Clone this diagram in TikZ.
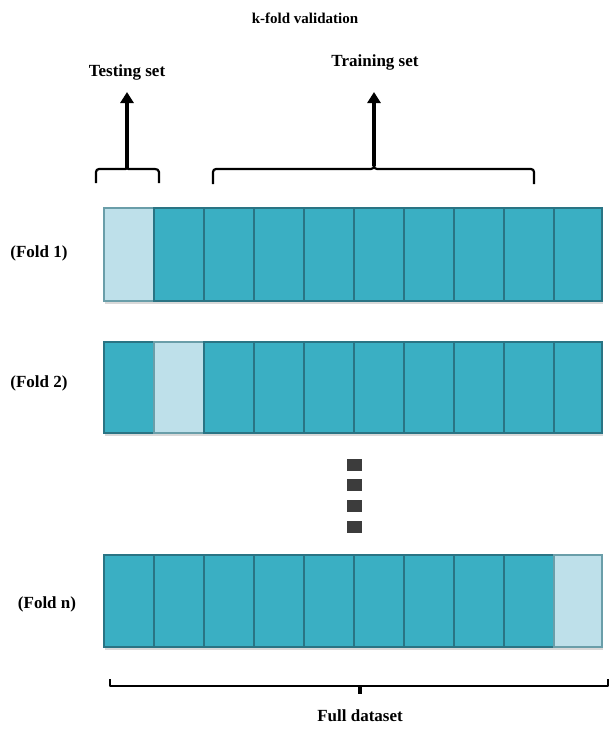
\documentclass[tikz,border=0pt]{standalone}
\usepackage{fontspec}
\setmainfont{Liberation Serif}
\usetikzlibrary{arrows.meta}
\definecolor{cellfill}{HTML}{3AAFC3}
\definecolor{testfill}{HTML}{BEE0EA}
\definecolor{celledge}{HTML}{2A7484}
\definecolor{dotgrey}{HTML}{3C3C3C}
\tikzset{
  cell/.style={draw=celledge, line width=2pt, fill=cellfill},
  testcell/.style={draw=celledge!70, line width=2pt, fill=testfill},
  lbl/.style={font=\bfseries\fontsize{17}{19}\selectfont, inner sep=0pt},
  titlelbl/.style={font=\bfseries\fontsize{15}{17}\selectfont, inner sep=0pt},
  brace/.style={draw=black, line width=2.2pt, line join=round},
  uparrow/.style={draw=black, line width=3.6pt, -{Triangle[length=11pt,width=13pt]}},
  dot/.style={fill=dotgrey, draw=none}
}
\begin{document}
\begin{tikzpicture}[x=1pt,y=-1pt]
\useasboundingbox (0,0) rectangle (610,734);
\fill[white] (0,0) rectangle (610,734);

% titles and labels
\node[titlelbl] (title) at (305,18) {k-fold validation};
\node[lbl] (testlbl) at (127,72) {Testing set};
\node[lbl] (trainlbl) at (375,62) {Training set};
\node[lbl] (f1) at (39,253) {(Fold 1)};
\node[lbl] (f2) at (39,383) {(Fold 2)};
\node[lbl] (fn) at (47,604) {(Fold n)};
\node[lbl] (full) at (360,716) {Full dataset};

% rows of folds: cell k spans x = 103+50k .. 153+50k
\foreach \row/\top/\bot/\test in {1/207/300/0, 2/341/432/1, 3/554/646/9}{
  \fill[black!15] (105,\bot) rectangle (603,\bot+4);
  \foreach \k in {0,...,9}{
    \pgfmathsetmacro{\xa}{103+50*\k}
    \pgfmathsetmacro{\xb}{min(153+50*\k,601)}
    \ifnum\k=\test
      \node[testcell, minimum width={(\xb-\xa)*1pt}, minimum height={(\bot-\top)*1pt}, anchor=north west, inner sep=0pt] (c\row-\k) at (\xa,\top) {};
    \else
      \node[cell, minimum width={(\xb-\xa)*1pt}, minimum height={(\bot-\top)*1pt}, anchor=north west, inner sep=0pt] (c\row-\k) at (\xa,\top) {};
    \fi
  }
}

% braces over the first row
\coordinate (tbl) at (96,183);
\coordinate (tbr) at (159,183);
\coordinate (tbm) at (127,168);
\draw[brace] (tbl) -- (96,172) to[out=90,in=180] (99,169) -- (124,169) to[out=0,in=-90] (tbm) to[out=-90,in=180] (130,169) -- (155,169) to[out=0,in=90] (159,172) -- (tbr);
\coordinate (rbl) at (213,184);
\coordinate (rbr) at (534,184);
\coordinate (rbm) at (374,166);
\draw[brace] (rbl) -- (213,172) to[out=90,in=180] (216,169) -- (371,169) to[out=0,in=-90] (rbm) to[out=-90,in=180] (377,169) -- (531,169) to[out=0,in=90] (534,172) -- (rbr);

% arrows up to the labels
\coordinate (tat) at (127,92);
\coordinate (rat) at (374,92);
\draw[uparrow] (tbm) -- (tat);
\draw[uparrow] (rbm) -- (rat);

% vertical ellipsis
\foreach \y in {459,479,500,521}{
  \fill[dot] (347,\y) rectangle (362,\y+12);
}

% bracket under the last row
\coordinate (bl) at (110,679);
\coordinate (br) at (608,679);
\coordinate (bm) at (360,694);
\draw[brace] (bl) -- (110,686) -- (608,686) -- (br);
\draw[draw=black, line width=4pt] (360,686) -- (bm);
\end{tikzpicture}
\end{document}
